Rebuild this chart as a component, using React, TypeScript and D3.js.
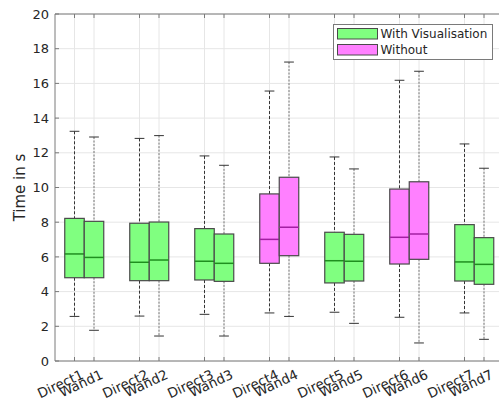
import React, { useEffect, useRef } from 'react';
import * as d3 from 'd3';

const labels = ['Direct1', 'Wand1', 'Direct2', 'Wand2', 'Direct3', 'Wand3', 'Direct4', 'Wand4', 'Direct5', 'Wand5', 'Direct6', 'Wand6', 'Direct7', 'Wand7'];
const positions = [1, 1.3, 2, 2.3, 3, 3.3, 4, 4.3, 5, 5.3, 6, 6.3, 7, 7.3];
const withVis = [true, true, true, true, true, true, false, false, true, true, false, false, true, true];
const lowerWhisker = [2.57, 1.77, 2.59, 1.44, 2.69, 1.44, 2.77, 2.57, 2.81, 2.17, 2.52, 1.04, 2.77, 1.25];
const q1 = [4.8, 4.8, 4.63, 4.63, 4.67, 4.59, 5.63, 6.07, 4.5, 4.61, 5.59, 5.86, 4.61, 4.42];
const medians = [6.17, 5.97, 5.69, 5.82, 5.75, 5.63, 7.01, 7.71, 5.78, 5.75, 7.13, 7.32, 5.71, 5.57];
const q3 = [8.22, 8.05, 7.94, 8.01, 7.63, 7.32, 9.63, 10.59, 7.42, 7.3, 9.91, 10.33, 7.86, 7.11];
const upperWhisker = [13.24, 12.91, 12.83, 12.99, 11.82, 11.28, 15.56, 17.23, 11.76, 11.07, 16.18, 16.7, 12.51, 11.11];
const yTicks = [0, 2, 4, 6, 8, 10, 12, 14, 16, 18, 20];
const legendItems = ['With Visualisation', 'Without'];

const FONT = 'DejaVu Sans, sans-serif';

export default function App() {
  const svgRef = useRef<SVGSVGElement>(null);

  useEffect(() => {
    if (!svgRef.current) return;
    const svg = d3.select(svgRef.current);
    svg.selectAll('*').remove();

    const left = 55, top = 14, bottom = 361;
    const x = d3.scaleLinear().domain([0.7, 7.6]).range([left, 503.5]);
    const y = d3.scaleLinear().domain([0, 20]).range([bottom, top]);
    const right = x(7.6);
    const boxW = x(1.3) - x(1);
    const capW = boxW / 2;

    const fill = (i: number) => (withVis[i] ? '#80ff80' : '#ff80ff');
    const medColor = (i: number) => (withVis[i] ? '#1f8f1f' : '#a21fa2');

    // grid
    svg.append('g')
      .selectAll('line')
      .data(yTicks)
      .enter()
      .append('line')
      .attr('x1', left).attr('x2', right)
      .attr('y1', (d: number) => y(d)).attr('y2', (d: number) => y(d))
      .attr('stroke', '#e6e6e6').attr('stroke-width', 1);

    svg.append('g')
      .selectAll('line')
      .data(positions)
      .enter()
      .append('line')
      .attr('x1', (d: number) => x(d)).attr('x2', (d: number) => x(d))
      .attr('y1', top).attr('y2', bottom)
      .attr('stroke', '#e6e6e6').attr('stroke-width', 1);

    // whiskers
    const g = svg.append('g');
    positions.forEach((p, i) => {
      const cx = x(p);
      const isWand = i % 2 === 1;
      const wStroke = isWand ? '#777' : '#333';
      const dash = isWand ? '2,1.5' : '3,2';
      g.append('line')
        .attr('x1', cx).attr('x2', cx)
        .attr('y1', y(upperWhisker[i])).attr('y2', y(q3[i]))
        .attr('stroke', wStroke).attr('stroke-dasharray', dash);
      g.append('line')
        .attr('x1', cx).attr('x2', cx)
        .attr('y1', y(q1[i])).attr('y2', y(lowerWhisker[i]))
        .attr('stroke', wStroke).attr('stroke-dasharray', dash);
      [upperWhisker[i], lowerWhisker[i]].forEach((v) => {
        g.append('line')
          .attr('x1', cx - capW / 2).attr('x2', cx + capW / 2)
          .attr('y1', y(v)).attr('y2', y(v))
          .attr('stroke', '#333').attr('stroke-width', 1);
      });
    });

    // boxes
    positions.forEach((p, i) => {
      const cx = x(p);
      g.append('rect')
        .attr('x', cx - boxW / 2)
        .attr('y', y(q3[i]))
        .attr('width', boxW)
        .attr('height', y(q1[i]) - y(q3[i]))
        .attr('fill', fill(i))
        .attr('stroke', '#4a4a4a')
        .attr('stroke-width', 1.2);
      g.append('line')
        .attr('x1', cx - boxW / 2).attr('x2', cx + boxW / 2)
        .attr('y1', y(medians[i])).attr('y2', y(medians[i]))
        .attr('stroke', medColor(i)).attr('stroke-width', 1.5);
    });

    // axes frame
    const axisColor = '#7a7a7a';
    svg.append('line').attr('x1', left).attr('x2', right).attr('y1', top).attr('y2', top).attr('stroke', axisColor);
    svg.append('line').attr('x1', left).attr('x2', right).attr('y1', bottom).attr('y2', bottom).attr('stroke', axisColor);
    svg.append('line').attr('x1', left).attr('x2', left).attr('y1', top).attr('y2', bottom).attr('stroke', axisColor);

    // inward ticks
    yTicks.forEach((t) => {
      svg.append('line').attr('x1', left).attr('x2', left + 4).attr('y1', y(t)).attr('y2', y(t)).attr('stroke', axisColor);
    });
    positions.forEach((p) => {
      svg.append('line').attr('x1', x(p)).attr('x2', x(p)).attr('y1', bottom).attr('y2', bottom - 4).attr('stroke', axisColor);
      svg.append('line').attr('x1', x(p)).attr('x2', x(p)).attr('y1', top).attr('y2', top + 4).attr('stroke', axisColor);
    });

    // y tick labels
    svg.append('g')
      .selectAll('text')
      .data(yTicks)
      .enter()
      .append('text')
      .attr('x', left - 6)
      .attr('y', (d: number) => y(d))
      .attr('dy', '0.36em')
      .attr('text-anchor', 'end')
      .attr('font-family', FONT)
      .attr('font-size', 13)
      .attr('fill', '#262626')
      .text((d: number) => String(d));

    // x tick labels
    svg.append('g')
      .selectAll('text')
      .data(labels)
      .enter()
      .append('text')
      .attr('transform', (_d: string, i: number) => `translate(${x(positions[i]) + 6},${bottom + 8}) rotate(-25)`)
      .attr('dy', '0.72em')
      .attr('text-anchor', 'end')
      .attr('font-family', FONT)
      .attr('font-size', 13.5)
      .attr('fill', '#262626')
      .text((d: string) => d);

    // y label
    svg.append('text')
      .attr('transform', `translate(25,${(top + bottom) / 2}) rotate(-90)`)
      .attr('text-anchor', 'middle')
      .attr('font-family', FONT)
      .attr('font-size', 15)
      .attr('fill', '#262626')
      .text('Time in s');

    // legend
    const lg = svg.append('g').attr('transform', 'translate(333.5,24.5)');
    lg.append('rect').attr('width', 159).attr('height', 35).attr('fill', '#fff').attr('stroke', '#7a7a7a');
    legendItems.forEach((name, i) => {
      lg.append('rect')
        .attr('x', 4).attr('y', 4 + i * 16)
        .attr('width', 40).attr('height', 10.5)
        .attr('fill', i === 0 ? '#80ff80' : '#ff80ff')
        .attr('stroke', '#4a4a4a');
      lg.append('text')
        .attr('x', 47).attr('y', 9.5 + i * 16)
        .attr('dy', '0.36em')
        .attr('font-family', FONT)
        .attr('font-size', 12)
        .attr('fill', '#262626')
        .text(name);
    });
  }, []);

  return (
    <svg
      ref={svgRef}
      width={499}
      height={405}
      style={{ position: 'absolute', left: 0, top: 0, display: 'block', background: '#fff' }}
    />
  );
}
